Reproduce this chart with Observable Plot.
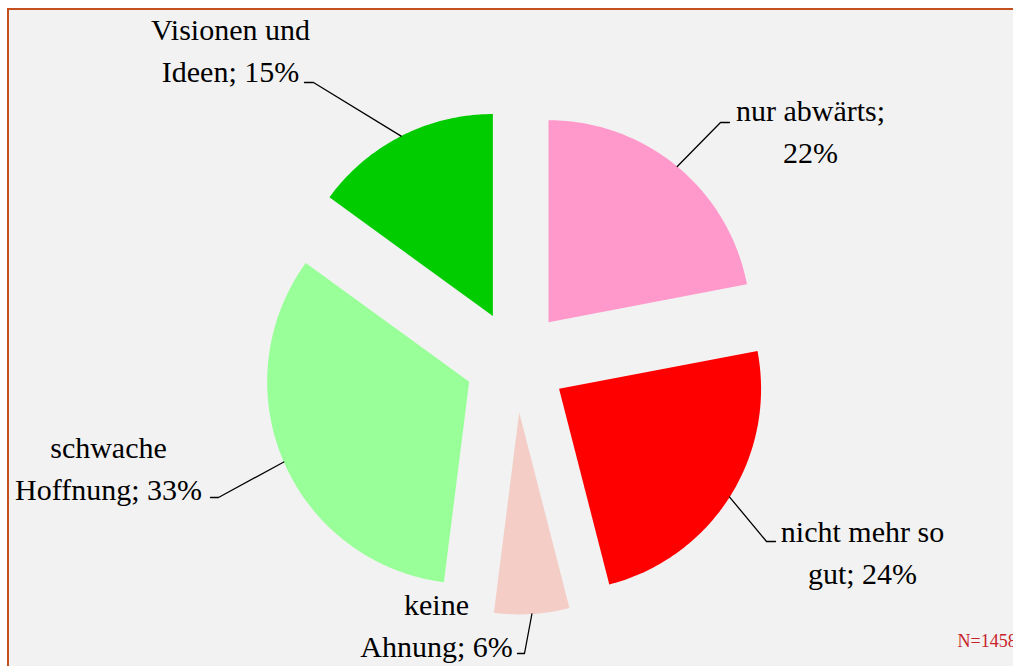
<!DOCTYPE html>
<html>
<head>
<meta charset="utf-8">
<script src="https://cdn.jsdelivr.net/npm/d3@7"></script>
<script src="https://cdn.jsdelivr.net/npm/@observablehq/plot@0.6"></script>
<style>
  html, body { margin: 0; padding: 0; background: #ffffff; }
  #wrap { position: relative; width: 1013px; height: 666px; overflow: hidden; }
  #frame { position: absolute; left: 7px; top: 8px; width: 1100px; height: 700px;
           background: #f2f2f2; border-left: 2px solid #c4501f; border-top: 2px solid #c4501f; }
  #chart { position: absolute; left: 0; top: 0; }
  #chart text { font-family: "Liberation Serif", "Times New Roman", serif !important; }
</style>
</head>
<body>
<div id="wrap"><div id="frame"></div><div id="chart"></div></div>
<script>
// ---- data ----
const categories = ["nur abwärts", "nicht mehr so gut", "keine Ahnung", "schwache Hoffnung", "Visionen und Ideen"];
const shares = [22, 24, 6, 33, 15];
const labels = ["nur abwärts;\n22%", "nicht mehr so\ngut; 24%", "keine\nAhnung; 6%", "schwache\nHoffnung; 33%", "Visionen und\nIdeen; 15%"];
const sampleNote = "N=1458";

// ---- styles / layout ----
const colors = ["#ff99cc", "#ff0000", "#f4cdc7", "#99ff99", "#00cc00"];
const W = 1013, H = 666;
const cx = 515.5, cy = 361, R = 202, explode = 51;
const labelPos = [[810, 128], [862, 549], [436, 622], [108, 465], [230, 47]];
const leaderElbow = [[720, 122], [766, 541], [524, 653], [218, 497], [313, 82]];
const leaderEnd = [[729, 122], [775, 541], [517, 653], [210, 497], [304, 82]];
const font = "Liberation Serif";

const arcs = d3.pie().sort(null).startAngle(0).endAngle(2 * Math.PI)(shares);

const slicePts = [];
const leaderPts = [];
const labelRows = [];
arcs.forEach((a, i) => {
  const mid = (a.startAngle + a.endAngle) / 2;
  const ax = cx + explode * Math.sin(mid), ay = cy - explode * Math.cos(mid);
  slicePts.push({cat: categories[i], color: colors[i], x: ax, y: ay});
  const n = Math.max(8, Math.ceil((a.endAngle - a.startAngle) * 60));
  for (let k = 0; k <= n; k++) {
    const t = a.startAngle + (a.endAngle - a.startAngle) * k / n;
    slicePts.push({cat: categories[i], color: colors[i], x: ax + R * Math.sin(t), y: ay - R * Math.cos(t)});
  }
  leaderPts.push({cat: categories[i], x: ax + R * Math.sin(mid), y: ay - R * Math.cos(mid)});
  leaderPts.push({cat: categories[i], x: leaderElbow[i][0], y: leaderElbow[i][1]});
  leaderPts.push({cat: categories[i], x: leaderEnd[i][0], y: leaderEnd[i][1]});
  labelRows.push({text: labels[i], x: labelPos[i][0], y: labelPos[i][1]});
});

const chart = Plot.plot({
  width: W, height: H,
  margin: 0,
  style: {background: "transparent", overflow: "visible"},
  x: {domain: [0, W], range: [0, W], axis: null},
  y: {domain: [0, H], range: [0, H], axis: null},
  color: {type: "identity"},
  marks: [
    Plot.line(slicePts, {x: "x", y: "y", z: "cat", fill: "color", stroke: "none"}),
    Plot.line(leaderPts, {x: "x", y: "y", z: "cat", stroke: "#000000", strokeWidth: 1.3}),
    Plot.text(labelRows, {x: "x", y: "y", text: "text", textAnchor: "middle", lineAnchor: "middle",
      fontFamily: font, fontSize: 30, lineHeight: 1.4, fill: "#000000"}),
    Plot.text([sampleNote], {x: () => 957, y: () => 641, text: d => d, textAnchor: "start", lineAnchor: "middle",
      fontFamily: font, fontSize: 18, fill: "#c8232a"})
  ]
});
document.getElementById("chart").appendChild(chart);
</script>
</body>
</html>
